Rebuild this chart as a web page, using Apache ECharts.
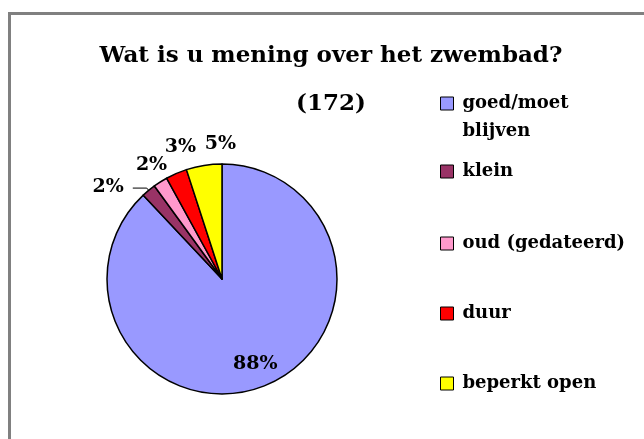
<!DOCTYPE html>
<html>
<head>
<meta charset="utf-8">
<script src="https://cdn.jsdelivr.net/npm/echarts@6/dist/echarts.min.js"></script>
<style>
  html, body { margin: 0; padding: 0; background: #fff; }
  #chart { width: 644px; height: 439px; }
</style>
</head>
<body>
<div id="chart"></div>
<script>
var categories = ['goed/moet blijven', 'klein', 'oud (gedateerd)', 'duur', 'beperkt open'];
var percentages = [88, 2, 2, 3, 5];
var chartTitle = 'Wat is u mening over het zwembad?';
var respondents = 172;

var colors = ['#9999FF', '#993366', '#FF99CC', '#FF0000', '#FFFF00'];
var font = 'DejaVu Serif';

// nudges so the labels sit where Excel put them
var labelTweaks = [
  { inside: true, dx: 11, dy: 29 },
  { line: true, length: 3, length2: 14, dx: -4, dy: -1 },
  { dx: 15, dy: -12 },
  { dx: 27, dy: -21 },
  { dx: 38, dy: -15 }
];
var legendTops = [61.5, 157.5, 229.5, 299.5, 369.5];

var chart = echarts.init(document.getElementById('chart'));

var legends = categories.map(function (name, i) {
  return {
    data: [name],
    orient: 'vertical',
    left: 440,
    top: legendTops[i],
    padding: 0,
    itemWidth: 13,
    itemHeight: 13,
    icon: 'rect',
    selectedMode: false,
    itemStyle: { borderColor: '#000', borderWidth: 1 },
    // first entry wraps; the empty first line keeps its marker on "goed/moet"
    formatter: function (n) {
      return n.indexOf('goed/moet ') === 0 ? '\n' + n.replace('goed/moet ', 'goed/moet\n') : n;
    },
    textStyle: {
      fontFamily: font,
      fontWeight: 'bold',
      fontSize: 18,
      lineHeight: 28,
      color: '#000',
      padding: [0, 0, 0, 4]
    }
  };
});

var option = {
  backgroundColor: '#fff',
  animation: false,
  title: {
    text: chartTitle + '\n(' + respondents + ')',
    left: 331,
    top: 32,
    padding: 0,
    textAlign: 'center',
    textStyle: {
      fontFamily: font,
      fontWeight: 'bold',
      fontSize: 23,
      lineHeight: 48,
      color: '#000'
    }
  },
  legend: legends,
  graphic: [{
    type: 'rect',
    shape: { x: 9.5, y: 13.5, width: 700, height: 500 },
    style: { fill: 'none', stroke: '#808080', lineWidth: 3 },
    silent: true
  }],
  series: [{
    type: 'pie',
    center: [222, 279],
    radius: [0, 115],
    startAngle: 90,
    clockwise: true,
    avoidLabelOverlap: false,
    itemStyle: { borderColor: '#000', borderWidth: 1.5 },
    label: {
      formatter: '{c}%',
      fontFamily: font,
      fontWeight: 'bold',
      fontSize: 19,
      color: '#000'
    },
    labelLayout: function (params) {
      var t = labelTweaks[params.dataIndex];
      return { dx: t.dx, dy: t.dy };
    },
    data: categories.map(function (name, i) {
      var t = labelTweaks[i];
      return {
        name: name,
        value: percentages[i],
        itemStyle: { color: colors[i] },
        label: { position: t.inside ? 'inside' : 'outside', distanceToLabelLine: 5 },
        labelLine: {
          show: !!t.line,
          length: t.length || 6,
          length2: t.length2 || 0,
          lineStyle: { color: '#000', width: 1 }
        }
      };
    })
  }]
};

chart.setOption(option);
</script>
</body>
</html>
